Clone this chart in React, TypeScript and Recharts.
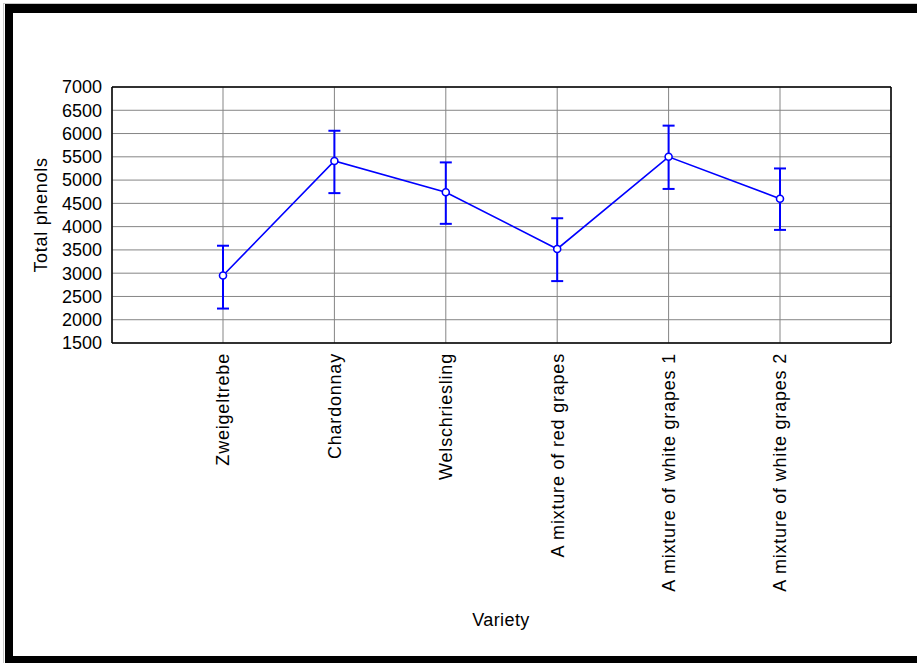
import { LineChart, Line, XAxis, YAxis, CartesianGrid, ErrorBar, Label } from "recharts";

const categories = [
  "Zweigeltrebe",
  "Chardonnay",
  "Welschriesling",
  "A mixture of red grapes",
  "A mixture of white grapes 1",
  "A mixture of white grapes 2",
];
const means = [2950, 5410, 4740, 3520, 5500, 4600];
const lower = [2240, 4720, 4060, 2830, 4810, 3930];
const upper = [3590, 6060, 5380, 4180, 6170, 5250];
const yTicks = [1500, 2000, 2500, 3000, 3500, 4000, 4500, 5000, 5500, 6000, 6500, 7000];

const FONT = "'Liberation Sans', Arial, sans-serif";
const BLUE = "#0000ff";

const data = categories.map((variety, i) => ({
  variety,
  mean: means[i],
  err: [means[i] - lower[i], upper[i] - means[i]],
}));

function VarietyTick(props: { x?: number; y?: number; payload?: { value: string } }) {
  const { x = 0, payload } = props;
  const top = 353;
  return (
    <text
      x={x}
      y={top}
      transform={`rotate(-90 ${x} ${top})`}
      textAnchor="end"
      dy="0.36em"
      fontFamily={FONT}
      fontSize={18}
      letterSpacing={0.8}
      fill="#000"
    >
      {payload?.value}
    </text>
  );
}

export default function App() {
  return (
    <div style={{ position: "absolute", left: 0, top: 0, width: 917, height: 663, overflow: "hidden", background: "#fff" }}>
      <div style={{ position: "absolute", left: 3, top: 3, width: 960, height: 700, border: "1px solid #c8c8c8", boxSizing: "border-box" }} />
      <div style={{ position: "absolute", left: 5, top: 4, width: 960, height: 659, borderLeft: "8px solid #000", borderTop: "9px solid #000", borderBottom: "7px solid #000", boxSizing: "border-box" }} />
      <div style={{ position: "absolute", left: 0, top: 0 }}>
        <LineChart width={917} height={663} data={data} margin={{ top: 87, right: 26, left: 0, bottom: 0 }}>
          <CartesianGrid stroke="#858585" strokeWidth={1} />
          <XAxis
            dataKey="variety"
            padding={{ left: 111, right: 111 }}
            height={320}
            axisLine={{ stroke: "#000", strokeWidth: 1.5 }}
            tickLine={false}
            tick={<VarietyTick />}
            interval={0}
          >
            <Label
              content={() => (
                <text x={501} y={620} textAnchor="middle" dominantBaseline="central" fontFamily={FONT} fontSize={18} letterSpacing={0.4} fill="#000">
                  Variety
                </text>
              )}
            />
          </XAxis>
          <XAxis
            xAxisId="t"
            dataKey="variety"
            orientation="top"
            mirror
            padding={{ left: 111, right: 111 }}
            axisLine={{ stroke: "#000", strokeWidth: 1.5 }}
            tickLine={{ stroke: "#222" }}
            tickSize={4}
            tick={false}
            interval={0}
          />
          <YAxis
            domain={[1500, 7000]}
            ticks={yTicks}
            allowDataOverflow
            width={112}
            axisLine={{ stroke: "#000", strokeWidth: 1.5 }}
            tickLine={false}
            tickSize={0}
            tickMargin={10}
            interval={0}
            tick={{ fill: "#000", fontSize: 18, fontFamily: FONT }}
          >
            <Label
              content={(p: { viewBox?: { y: number; height: number } }) => {
                const cy = (p.viewBox?.y ?? 87) + (p.viewBox?.height ?? 256) / 2;
                return (
                  <text x={41} y={cy} transform={`rotate(-90 41 ${cy})`} textAnchor="middle" dominantBaseline="central" fontFamily={FONT} fontSize={18} letterSpacing={0.7} fill="#000">
                    Total phenols
                  </text>
                );
              }}
            />
          </YAxis>
          <YAxis
            yAxisId="r"
            orientation="right"
            mirror
            domain={[1500, 7000]}
            ticks={yTicks}
            allowDataOverflow
            axisLine={{ stroke: "#000", strokeWidth: 1.5 }}
            tickLine={{ stroke: "#222" }}
            tickSize={4}
            tick={false}
            interval={0}
          />
          <Line
            type="linear"
            dataKey="mean"
            stroke={BLUE}
            strokeWidth={1.6}
            dot={{ r: 3.5, stroke: BLUE, strokeWidth: 1.6, fill: "#fff" }}
            activeDot={false}
            isAnimationActive={false}
          >
            <ErrorBar dataKey="err" direction="y" width={6} stroke={BLUE} strokeWidth={2} isAnimationActive={false} />
          </Line>
        </LineChart>
      </div>
    </div>
  );
}
